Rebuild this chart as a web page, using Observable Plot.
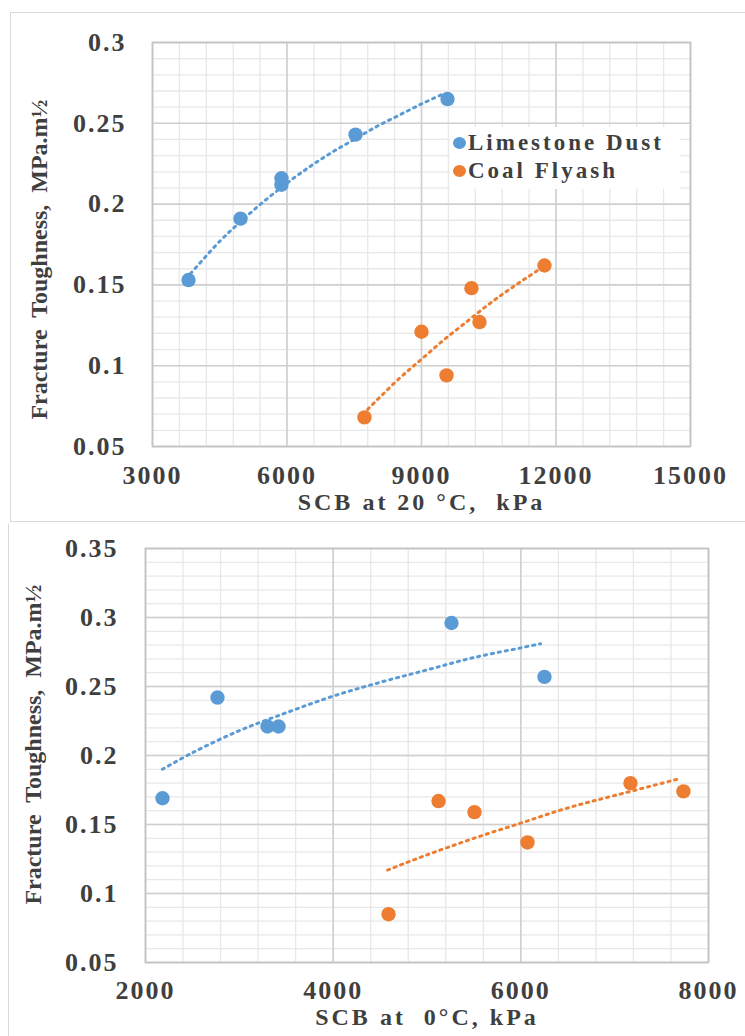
<!DOCTYPE html>
<html>
<head>
<meta charset="utf-8">
<script src="https://cdn.jsdelivr.net/npm/d3@7"></script>
<script src="https://cdn.jsdelivr.net/npm/@observablehq/plot@0.6"></script>
<style>
  html, body { margin: 0; padding: 0; background: #fff; }
  body { width: 745px; height: 1036px; position: relative; overflow: hidden;
         font-family: "Liberation Serif", "Times New Roman", serif; }
  #topFrame { position: absolute; left: 10px; top: 12px; width: 745px; height: 510px;
              border: 1.5px solid #d9d9d9; box-sizing: border-box; }
  #botFrame { position: absolute; left: 8px; top: 524px; width: 2px; height: 520px;
              border-left: 1.5px solid #d9d9d9; }
  #topChart { position: absolute; left: 0; top: 0; }
  #botChart { position: absolute; left: 0; top: 520px; }
  #legend { position: absolute; left: 450px; top: 127px; width: 230px; height: 62px;
            background: #fff; font-weight: bold; font-size: 23px; color: #3f3f3f;
            letter-spacing: 3px; }
  #legend .row { position: absolute; left: 3px; display: flex; align-items: center; white-space: nowrap; }
  #legend .sw { width: 13px; height: 12px; border-radius: 50%; margin-right: 2px; }
</style>
</head>
<body>
<div id="topFrame"></div>
<div id="botFrame"></div>
<div id="topChart"></div>
<div id="botChart"></div>
<div id="legend"></div>
<script>
// ---------- Data ----------
const seriesNames = ["Limestone Dust", "Coal Flyash"];
const seriesColors = ["#5B9BD5", "#ED7D31"];

// Chart 1: SCB at 20 °C
const limestone20X = [3803, 4963, 5877, 5877, 7528, 9580];
const limestone20Y = [0.153, 0.191, 0.216, 0.212, 0.243, 0.265];
const flyash20X = [7728, 9000, 9558, 10114, 10293, 11743];
const flyash20Y = [0.068, 0.121, 0.094, 0.148, 0.127, 0.162];
// dotted trend lines
const limeTrend20X = [3850, 4500, 5000, 5500, 6000, 6500, 7000, 7500, 8000, 8500, 9000, 9470];
const limeTrend20Y = [0.157, 0.177, 0.190, 0.202, 0.213, 0.223, 0.232, 0.240, 0.248, 0.255, 0.262, 0.268];
const flyTrend20X = [7800, 8500, 9000, 9500, 10000, 10500, 11000, 11650];
const flyTrend20Y = [0.073, 0.092, 0.104, 0.116, 0.127, 0.138, 0.148, 0.160];
const xTicks20 = [3000, 6000, 9000, 12000, 15000];
const yTicks20 = [0.05, 0.1, 0.15, 0.2, 0.25, 0.3];
const xTitle20 = "SCB at\u00a020\u00a0\u00b0C,\u00a0 kPa";

// Chart 2: SCB at 0 °C
const limestone0X = [2181, 2767, 3300, 3418, 5261, 6252];
const limestone0Y = [0.169, 0.242, 0.221, 0.221, 0.296, 0.257];
const flyash0X = [4590, 5123, 5506, 6071, 7168, 7733];
const flyash0Y = [0.085, 0.167, 0.159, 0.137, 0.180, 0.174];
const limeTrend0X = [2180, 2500, 3000, 3500, 4000, 4500, 5000, 5500, 6000, 6210];
const limeTrend0Y = [0.190, 0.202, 0.218, 0.231, 0.243, 0.253, 0.262, 0.271, 0.278, 0.281];
const flyTrend0X = [4580, 5000, 5500, 6000, 6500, 7000, 7680];
const flyTrend0Y = [0.117, 0.128, 0.140, 0.151, 0.162, 0.171, 0.183];
const xTicks0 = [2000, 4000, 6000, 8000];
const yTicks0 = [0.05, 0.1, 0.15, 0.2, 0.25, 0.3, 0.35];
const xTitle0 = "SCB at\u00a0 0\u00b0C,\u00a0kPa";

const yTitle = "Fracture\u00a0 Toughness,\u00a0 MPa.m\u00bd";

// ---------- helpers ----------
const zip = (xs, ys, s) => xs.map((x, i) => ({x, y: ys[i], s}));
const textColor = "#3f3f3f";

function chart(cfg) {
  const pts = [...zip(cfg.lx, cfg.ly, seriesNames[0]), ...zip(cfg.fx, cfg.fy, seriesNames[1])];
  const trends = [...zip(cfg.ltx, cfg.lty, seriesNames[0]), ...zip(cfg.ftx, cfg.fty, seriesNames[1])];
  const xMinor = d3.range(cfg.xDomain[0], cfg.xDomain[1] + 1e-9, cfg.xMinorStep);
  const nY = Math.round((cfg.yDomain[1] - cfg.yDomain[0]) / 0.01);
  const yMinor = d3.range(0, nY + 1).map(i => +(cfg.yDomain[0] + i * 0.01).toFixed(3));
  return Plot.plot({
    width: 745, height: cfg.height,
    marginLeft: cfg.ml, marginRight: cfg.mr, marginTop: cfg.mt, marginBottom: cfg.mb,
    x: {domain: cfg.xDomain},
    y: {domain: cfg.yDomain},
    color: {domain: seriesNames, range: seriesColors},
    style: {fontFamily: "'Liberation Serif', 'Times New Roman', serif", background: "transparent", overflow: "visible"},
    marks: [
      Plot.gridX(xMinor, {stroke: "#e8e8e8", strokeOpacity: 1, strokeWidth: 1.3}),
      Plot.gridY(yMinor, {stroke: "#e8e8e8", strokeOpacity: 1, strokeWidth: 1.3}),
      Plot.gridX(cfg.xTicks, {stroke: "#d0d0d0", strokeOpacity: 1, strokeWidth: 1.6}),
      Plot.gridY(cfg.yTicks, {stroke: "#d0d0d0", strokeOpacity: 1, strokeWidth: 1.6}),
      Plot.frame({stroke: "#c4c4c4", strokeWidth: 1.6}),
      Plot.axisX(cfg.xTicks, {tickSize: 0, tickPadding: cfg.xPad, fontSize: 26, fontWeight: "bold",
        fill: textColor, label: null, tickFormat: d => String(d)}),
      Plot.axisY(cfg.yTicks, {tickSize: 0, tickPadding: cfg.yPad, fontSize: 26, fontWeight: "bold",
        fill: textColor, label: null, tickFormat: d => String(d)}),
      Plot.line(trends, {x: "x", y: "y", z: "s", stroke: "s", strokeWidth: 3,
        strokeDasharray: "2.2 4.8", curve: "catmull-rom"}),
      Plot.dot(pts, {x: "x", y: "y", fill: "s", r: 7.2}),
      Plot.text([cfg.xTitle], {frameAnchor: "bottom", dy: cfg.xTitleDy, fontSize: 24, fontWeight: "bold", fill: textColor}),
      Plot.text([yTitle], {frameAnchor: "left", textAnchor: "middle", rotate: -90, dx: cfg.yTitleDx, dy: cfg.yTitleDy,
        fontSize: 24, fontWeight: "bold", fill: textColor})
    ]
  });
}

const topSvg = chart({
  height: 522, ml: 152, mr: 55, mt: 42, mb: 76,
  xDomain: [3000, 15000], yDomain: [0.05, 0.3], xMinorStep: 600,
  xTicks: xTicks20, yTicks: yTicks20, xPad: 19, yPad: 26,
  lx: limestone20X, ly: limestone20Y, fx: flyash20X, fy: flyash20Y,
  ltx: limeTrend20X, lty: limeTrend20Y, ftx: flyTrend20X, fty: flyTrend20Y,
  xTitle: xTitle20, xTitleDy: 63, yTitleDx: -113, yTitleDy: 15
});
const botSvg = chart({
  height: 516, ml: 145, mr: 37, mt: 28, mb: 74,
  xDomain: [2000, 8000], yDomain: [0.05, 0.35], xMinorStep: 400,
  xTicks: xTicks0, yTicks: yTicks0, xPad: 18, yPad: 27,
  lx: limestone0X, ly: limestone0Y, fx: flyash0X, fy: flyash0Y,
  ltx: limeTrend0X, lty: limeTrend0Y, ftx: flyTrend0X, fty: flyTrend0Y,
  xTitle: xTitle0, xTitleDy: 62, yTitleDx: -112, yTitleDy: -11
});

for (const svg of [topSvg, botSvg]) {
  d3.select(svg).selectAll('g[aria-label="x-axis tick label"] text, g[aria-label="y-axis tick label"] text')
    .style("letter-spacing", "2px");
  d3.select(svg).selectAll('g[aria-label="text"] text').each(function () {
    const t = d3.select(this);
    if (t.attr("transform") && t.attr("transform").includes("rotate")) t.style("letter-spacing", "0px");
    else t.style("letter-spacing", "3px");
  });
}
document.getElementById("topChart").appendChild(topSvg);
document.getElementById("botChart").appendChild(botSvg);

// legend (inside top chart)
const legend = d3.select("#legend");
seriesNames.forEach((name, i) => {
  const row = legend.append("div").attr("class", "row").style("top", (i === 0 ? 3 : 31) + "px");
  row.append("div").attr("class", "sw").style("background", seriesColors[i]);
  row.append("span").text(name);
});
</script>
</body>
</html>
